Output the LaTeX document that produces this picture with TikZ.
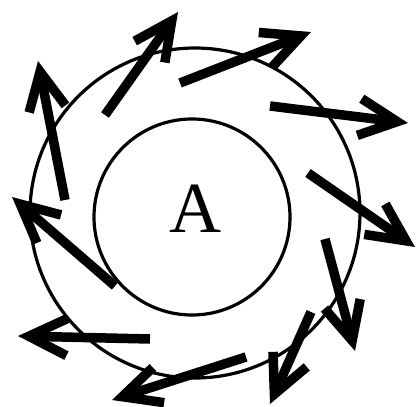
\documentclass[tikz,border=0pt]{standalone}
\usepackage{fontspec}
\setmainfont{Liberation Serif}
\usepackage{tikz}
\usetikzlibrary{arrows.meta}
\tikzset{
    ring/.style={circle, draw=black, line width=3.2pt, inner sep=0pt},
    letter/.style={font=\fontsize{72}{72}\selectfont, inner sep=0pt},
    arr/.style={-{Straight Barb[sharp, length=38pt, width=37pt]}, line width=9.5pt, black}
}
\begin{document}
\begin{tikzpicture}[x=1pt, y=-1pt]
    \useasboundingbox (0,0) rectangle (416,407);
    \node[ring, minimum size=330pt] (outer) at (195,213) {};
    \node[ring, minimum size=196pt] (inner) at (192,217) {};
    \node[letter] (lbl) at (195,209) {A};
    % tails and heads of the arrows
    \coordinate (t1) at (65,200);  \coordinate (h1) at (38,61);
    \coordinate (t2) at (105,115); \coordinate (h2) at (178,12);
    \coordinate (t3) at (180,83);  \coordinate (h3) at (311,32);
    \coordinate (t4) at (270,106); \coordinate (h4) at (408,123);
    \coordinate (t5) at (308,173); \coordinate (h5) at (415,247);
    \coordinate (t6) at (325,239); \coordinate (h6) at (355,351);
    \coordinate (t7) at (311,312); \coordinate (h7) at (270,404);
    \coordinate (t8) at (246,357); \coordinate (h8) at (112,400);
    \coordinate (t9) at (150,339); \coordinate (h9) at (18,336);
    \coordinate (t10) at (115,286); \coordinate (h10) at (12,197);
    \draw[arr] (t1)--(h1); \draw[arr] (t2)--(h2); \draw[arr] (t3)--(h3); \draw[arr] (t4)--(h4); \draw[arr] (t5)--(h5);
    \draw[arr] (t6)--(h6); \draw[arr] (t7)--(h7); \draw[arr] (t8)--(h8); \draw[arr] (t9)--(h9); \draw[arr] (t10)--(h10);
\end{tikzpicture}
\end{document}
